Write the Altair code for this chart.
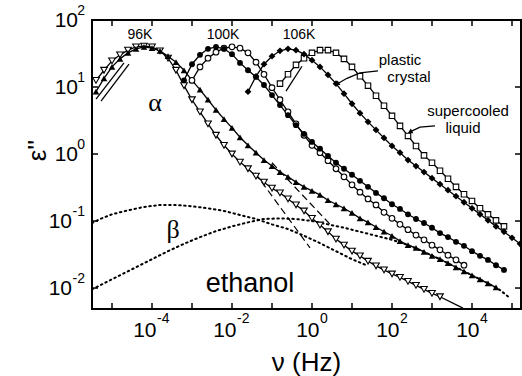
import altair as alt
import pandas as pd

# ---------------- data (log10 nu [Hz], log10 eps'') ----------------
# 96 K, supercooled liquid (open down-triangles)
lnu_96L = [-5.4, -5.2, -5.0, -4.8, -4.6, -4.4, -4.2, -4.0, -3.8, -3.6, -3.4, -3.2, -3.0, -2.8, -2.6,
           -2.4, -2.2, -2.0, -1.8, -1.6, -1.4, -1.2, -1.0, -0.8, -0.6, -0.4, -0.2, 0.0, 0.2, 0.4,
           0.6, 0.8, 1.0, 1.2, 1.4, 1.6, 1.8, 2.0, 2.2, 2.4, 2.6, 2.8, 3.0, 3.2]
leps_96L = [1.10, 1.25, 1.39, 1.48, 1.55, 1.60, 1.61, 1.60, 1.54, 1.43, 1.25, 1.02, 0.81, 0.63, 0.45,
            0.28, 0.13, 0.0, -0.12, -0.22, -0.33, -0.42, -0.51, -0.58, -0.67, -0.76, -0.85, -0.96, -1.06, -1.16,
            -1.27, -1.36, -1.45, -1.52, -1.60, -1.67, -1.73, -1.79, -1.84, -1.90, -1.96, -2.02, -2.08, -2.13]
# 96 K, plastic crystal (filled up-triangles)
lnu_96P = [-5.4, -5.2, -5.0, -4.8, -4.6, -4.4, -4.2, -4.0, -3.8, -3.6, -3.4, -3.2, -3.0, -2.8, -2.6,
           -2.4, -2.2, -2.0, -1.8, -1.6, -1.4, -1.2, -1.0, -0.8, -0.6, -0.4, -0.2, 0.0, 0.2, 0.4,
           0.6, 0.8, 1.0, 1.2, 1.4, 1.6, 1.8, 2.0, 2.2, 2.4, 2.6, 2.8, 3.0, 3.2, 3.4, 3.6, 3.8, 4.0,
           4.2, 4.4, 4.6]
leps_96P = [0.93, 1.13, 1.30, 1.42, 1.51, 1.57, 1.60, 1.58, 1.54, 1.46, 1.37, 1.25, 1.10, 0.96, 0.81,
            0.66, 0.52, 0.39, 0.25, 0.13, 0.02, -0.09, -0.18, -0.27, -0.34, -0.42, -0.49, -0.55, -0.61, -0.69,
            -0.75, -0.81, -0.88, -0.96, -1.02, -1.09, -1.16, -1.22, -1.30, -1.36, -1.40, -1.46, -1.52, -1.57, -1.63,
            -1.69, -1.75, -1.81, -1.87, -1.93, -1.99]
# 100 K, supercooled liquid (open circles)
lnu_100L = [-3.0, -2.8, -2.6, -2.4, -2.2, -2.0, -1.8, -1.6, -1.4, -1.2, -1.0, -0.8, -0.6, -0.4, -0.2,
            0.0, 0.2, 0.4, 0.6, 0.8, 1.0, 1.2, 1.4, 1.6, 1.8, 2.0, 2.2, 2.4, 2.6, 2.8, 3.0, 3.2, 3.4,
            3.6, 3.8]
leps_100L = [1.10, 1.30, 1.43, 1.52, 1.58, 1.60, 1.58, 1.51, 1.37, 1.19, 0.99, 0.81, 0.63, 0.45, 0.28,
             0.13, 0.02, -0.10, -0.22, -0.34, -0.46, -0.57, -0.67, -0.76, -0.87, -0.96, -1.05, -1.13, -1.21,
             -1.28, -1.36, -1.43, -1.51, -1.58, -1.66]
# 100 K, plastic crystal (filled circles)
lnu_100P = [-3.2, -3.0, -2.8, -2.6, -2.4, -2.2, -2.0, -1.8, -1.6, -1.4, -1.2, -1.0, -0.8, -0.6, -0.4,
            -0.2, 0.0, 0.2, 0.4, 0.6, 0.8, 1.0, 1.2, 1.4, 1.6, 1.8, 2.0, 2.2, 2.4, 2.6, 2.8, 3.0, 3.2,
            3.4, 3.6, 3.8, 4.0, 4.2, 4.4, 4.6, 4.8]
leps_100P = [1.10, 1.34, 1.48, 1.57, 1.60, 1.57, 1.49, 1.36, 1.25, 1.15, 1.03, 0.88, 0.73, 0.58, 0.43,
             0.30, 0.18, 0.08, -0.03, -0.13, -0.22, -0.31, -0.40, -0.49, -0.58, -0.66, -0.75, -0.82, -0.90,
             -0.97, -1.03, -1.10, -1.18, -1.24, -1.31, -1.37, -1.45, -1.52, -1.58, -1.66, -1.73]
# 106 K, supercooled liquid (open squares)
lnu_106L = [-0.8, -0.6, -0.4, -0.2, 0.0, 0.2, 0.4, 0.6, 0.8, 1.0, 1.2, 1.4, 1.6, 1.8, 2.0, 2.2, 2.4,
            2.6, 2.8, 3.0, 3.2, 3.4, 3.6, 3.8, 4.0, 4.2, 4.4, 4.6, 4.8]
leps_106L = [1.05, 1.19, 1.33, 1.43, 1.51, 1.55, 1.55, 1.51, 1.42, 1.30, 1.16, 1.02, 0.87, 0.72, 0.57,
             0.42, 0.27, 0.12, -0.02, -0.13, -0.25, -0.37, -0.49, -0.60, -0.70, -0.81, -0.90, -0.99, -1.08]
# 106 K, plastic crystal (filled diamonds)
lnu_106P = [-1.6, -1.4, -1.2, -1.0, -0.8, -0.6, -0.4, -0.2, 0.0, 0.2, 0.4, 0.6, 0.8, 1.0, 1.2, 1.4,
            1.6, 1.8, 2.0, 2.2, 2.4, 2.6, 2.8, 3.0, 3.2, 3.4, 3.6, 3.8, 4.0, 4.2, 4.4, 4.6, 4.8, 5.0, 5.2]
leps_106P = [0.93, 1.16, 1.34, 1.46, 1.54, 1.57, 1.55, 1.49, 1.40, 1.30, 1.18, 1.05, 0.90, 0.75, 0.61,
             0.48, 0.36, 0.24, 0.12, 0.02, -0.09, -0.18, -0.27, -0.36, -0.45, -0.54, -0.63, -0.72, -0.81,
             -0.90, -0.99, -1.08, -1.16, -1.25, -1.34]

# beta-relaxation curves (dotted)
lnu_betaA = [-5.5, -5.3, -5.0, -4.6, -4.2, -3.8, -3.4, -3.0, -2.6, -2.2, -1.8, -1.4, -1.0, -0.6, -0.2,
             0.2, 0.6, 1.0, 1.4]
leps_betaA = [-1.03, -0.97, -0.90, -0.84, -0.79, -0.76, -0.76, -0.78, -0.81, -0.85, -0.91, -0.97, -1.05,
              -1.12, -1.22, -1.33, -1.45, -1.57, -1.67]
lnu_betaB = [-5.5, -5.2, -4.8, -4.4, -4.0, -3.6, -3.2, -2.8, -2.4, -2.0, -1.6, -1.2, -0.8, -0.4, 0.0,
             0.4, 0.8, 1.2, 1.6, 2.0, 2.4, 2.8, 3.2, 3.6, 4.0, 4.4, 4.7, 4.95]
leps_betaB = [-2.02, -1.93, -1.81, -1.69, -1.57, -1.45, -1.34, -1.24, -1.15, -1.08, -1.02, -0.97, -0.96,
              -0.97, -1.00, -1.05, -1.10, -1.16, -1.22, -1.28, -1.36, -1.46, -1.57, -1.69, -1.81, -1.93,
              -2.03, -2.15]
# alpha-only fits (dashed)
lnu_dash1, leps_dash1 = [-1.425, -0.05], [-0.28, -1.40]
lnu_dash2, leps_dash2 = [-1.0, 0.5], [-0.13, -1.08]
# extra solid fit segments
lnu_tail96, leps_tail96 = [3.2, 3.775], [-2.13, -2.30]
lnu_low1, leps_low1 = [-5.4, -4.7], [0.82, 1.36]
lnu_low2, leps_low2 = [-5.275, -4.575], [0.79, 1.34]
lnu_low106, leps_low106 = [-0.65, -0.25], [0.94, 1.31]
# annotation arrows
lnu_arrP, leps_arrP = [1.65, 1.2, 0.875, 0.625], [1.24, 1.21, 1.13, 1.045]
lnu_arrL, leps_arrL = [3.075, 2.7, 2.45], [0.42, 0.40, 0.33]

# annotation texts
temp_text = ["96K", "100K", "106K"]
temp_lnu = [-4.3, -2.225, -0.325]
temp_leps = [1.78, 1.78, 1.78]
note_text = ["plastic", "crystal", "supercooled", "liquid"]
note_lnu = [2.2, 2.425, 3.9, 3.775]
note_leps = [1.40, 1.15, 0.64, 0.39]
greek_text = ["α", "β"]
greek_lnu = [-3.925, -3.475]
greek_leps = [0.76, -1.13]
name_text = ["ethanol"]
name_lnu = [-1.55]
name_leps = [-1.94]

# axes ticks
x_tick_exp = [-5, -4, -3, -2, -1, 0, 1, 2, 3, 4, 5]
x_label_exp = [-4, -2, 0, 2, 4]
y_tick_exp = [-2, -1, 0, 1, 2]


def frame(lnu, leps, **extra):
    d = pd.DataFrame({"nu": [10.0 ** v for v in lnu], "eps": [10.0 ** v for v in leps]})
    for k, v in extra.items():
        d[k] = v
    return d


FONT = "Liberation Sans"
W, H = 429, 289
xs = alt.Scale(type="log", domain=[10 ** -5.5, 10 ** 5.225], nice=False)
ys = alt.Scale(type="log", domain=[10 ** -2.313, 100], nice=False)
x_axis = alt.Axis(title="ν (Hz)", labels=False, ticks=False, domain=False, grid=False,
                  titleFont=FONT, titleFontSize=26, titleFontWeight="normal", titleColor="black",
                  titleX=214, titleY=53, titleAlign="center", titleBaseline="middle")
y_axis = alt.Axis(title="ε''", labels=False, ticks=False, domain=False, grid=False,
                  titleFont=FONT, titleFontSize=26, titleFontWeight="normal", titleColor="black",
                  titleX=-55, titleY=130, titleAngle=270, titleAlign="center", titleBaseline="middle")


def X(f="nu"):
    return alt.X(f"{f}:Q", scale=xs, axis=x_axis)


def Y(f="eps"):
    return alt.Y(f"{f}:Q", scale=ys, axis=y_axis)


layers = []

# dotted beta curves
dotted = pd.concat([frame(lnu_betaA, leps_betaA, id="A"), frame(lnu_betaB, leps_betaB, id="B")])
layers.append(alt.Chart(dotted).mark_line(color="black", strokeWidth=2, strokeDash=[1.5, 3.5],
                                          strokeCap="round", clip=True)
              .encode(x=X(), y=Y(), detail="id:N"))
# dashed alpha fits
dashed = pd.concat([frame(lnu_dash1, leps_dash1, id="d1"), frame(lnu_dash2, leps_dash2, id="d2")])
layers.append(alt.Chart(dashed).mark_line(color="black", strokeWidth=1.2, strokeDash=[7, 4], clip=True)
              .encode(x=X(), y=Y(), detail="id:N"))
# solid fits
solid = pd.concat([
    frame(lnu_96L, leps_96L, id="s1"), frame(lnu_96P, leps_96P, id="s2"),
    frame(lnu_100L, leps_100L, id="s3"), frame(lnu_100P, leps_100P, id="s4"),
    frame(lnu_106L, leps_106L, id="s5"), frame(lnu_106P, leps_106P, id="s6"),
    frame(lnu_tail96, leps_tail96, id="t"), frame(lnu_low1, leps_low1, id="l1"),
    frame(lnu_low2, leps_low2, id="l2"), frame(lnu_low106, leps_low106, id="l3"),
])
layers.append(alt.Chart(solid).mark_line(color="black", strokeWidth=1.3, clip=True)
              .encode(x=X(), y=Y(), detail="id:N"))

# data markers
markers = [
    (lnu_96L, leps_96L, "triangle-down", False, 44),
    (lnu_96P, leps_96P, "triangle-up", True, 44),
    (lnu_100L, leps_100L, "circle", False, 32),
    (lnu_100P, leps_100P, "circle", True, 34),
    (lnu_106L, leps_106L, "square", False, 30),
    (lnu_106P, leps_106P, "diamond", True, 46),
]
for lnu, leps, shape, filled, size in markers:
    if filled:
        m = alt.Chart(frame(lnu, leps)).mark_point(shape=shape, filled=True, color="black",
                                                   size=size, opacity=1, clip=True)
    else:
        m = alt.Chart(frame(lnu, leps)).mark_point(shape=shape, filled=True, fill="white",
                                                   stroke="black", strokeWidth=1.1, size=size,
                                                   opacity=1, clip=True)
    layers.append(m.encode(x=X(), y=Y()))

# arrows
arrows = pd.concat([frame(lnu_arrP, leps_arrP, id="p"), frame(lnu_arrL, leps_arrL, id="l")])
layers.append(alt.Chart(arrows).mark_line(color="black", strokeWidth=1.3)
              .encode(x=X(), y=Y(), detail="id:N"))
layers.append(alt.Chart(frame(lnu_arrP[-1:], leps_arrP[-1:])).mark_point(
    shape="triangle-up", filled=True, color="black", size=30, angle=239, opacity=1)
    .encode(x=X(), y=Y()))
layers.append(alt.Chart(frame(lnu_arrL[-1:], leps_arrL[-1:])).mark_point(
    shape="triangle-up", filled=True, color="black", size=30, angle=243, opacity=1)
    .encode(x=X(), y=Y()))

# texts
layers.append(alt.Chart(frame(temp_lnu, temp_leps, t=temp_text)).mark_text(
    font=FONT, fontSize=14, color="black", align="center", baseline="middle")
    .encode(x=X(), y=Y(), text="t:N"))
layers.append(alt.Chart(frame(note_lnu, note_leps, t=note_text)).mark_text(
    font=FONT, fontSize=15, color="black", align="center", baseline="middle")
    .encode(x=X(), y=Y(), text="t:N"))
layers.append(alt.Chart(frame(greek_lnu, greek_leps, t=greek_text)).mark_text(
    font="Liberation Serif", fontSize=26, color="black", align="center", baseline="middle")
    .encode(x=X(), y=Y(), text="t:N"))
layers.append(alt.Chart(frame(name_lnu, name_leps, t=name_text)).mark_text(
    font=FONT, fontSize=27, color="black", align="center", baseline="middle")
    .encode(x=X(), y=Y(), text="t:N"))

# inward ticks on all four sides
xt = pd.DataFrame({"v": [10.0 ** e for e in x_tick_exp]})
yt = pd.DataFrame({"v": [10.0 ** e for e in y_tick_exp]})
tk = dict(color="black", strokeWidth=1.5)
layers.append(alt.Chart(xt).mark_rule(**tk).encode(x=X("v"), y=alt.value(H), y2=alt.value(H - 6)))
layers.append(alt.Chart(xt).mark_rule(**tk).encode(x=X("v"), y=alt.value(0), y2=alt.value(6)))
layers.append(alt.Chart(yt).mark_rule(**tk).encode(y=Y("v"), x=alt.value(0), x2=alt.value(6)))
layers.append(alt.Chart(yt).mark_rule(**tk).encode(y=Y("v"), x=alt.value(W), x2=alt.value(W - 6)))

# tick labels: "10" with a raised exponent
xl = pd.DataFrame({"v": [10.0 ** e for e in x_label_exp], "e": [str(e) for e in x_label_exp],
                   "neg": [e < 0 for e in x_label_exp]})
yl = pd.DataFrame({"v": [10.0 ** e for e in y_tick_exp], "e": [str(e) for e in y_tick_exp],
                   "neg": [e < 0 for e in y_tick_exp]})
base = dict(font=FONT, fontSize=21, color="black", baseline="middle")
sup = dict(font=FONT, fontSize=14, color="black", baseline="middle")
for neg, dx in ((True, 4.5), (False, 7.5)):
    flt = "datum.neg" if neg else "!datum.neg"
    layers.append(alt.Chart(xl).transform_filter(flt).mark_text(align="right", dx=dx, **base)
                  .encode(x=X("v"), y=alt.value(H + 22), text=alt.value("10")))
    layers.append(alt.Chart(xl).transform_filter(flt).mark_text(align="left", dx=dx + 0.5, **sup)
                  .encode(x=X("v"), y=alt.value(H + 10), text="e:N"))
for neg, xr in ((True, -20), (False, -14)):
    flt = "datum.neg" if neg else "!datum.neg"
    layers.append(alt.Chart(yl).transform_filter(flt).mark_text(align="right", dy=1, **base)
                  .encode(y=Y("v"), x=alt.value(xr), text=alt.value("10")))
layers.append(alt.Chart(yl).mark_text(align="right", dy=-9, **sup)
              .encode(y=Y("v"), x=alt.value(-7), text="e:N"))

chart = alt.layer(*layers).properties(
    width=W, height=H,
    autosize=alt.AutoSizeParams(type="none"),
    padding={"left": 92, "top": 20, "right": 1, "bottom": 67},
    background="white",
).configure_view(stroke="black", strokeWidth=2)

chart.save("out.html", embed_options={"renderer": "svg", "actions": False})
